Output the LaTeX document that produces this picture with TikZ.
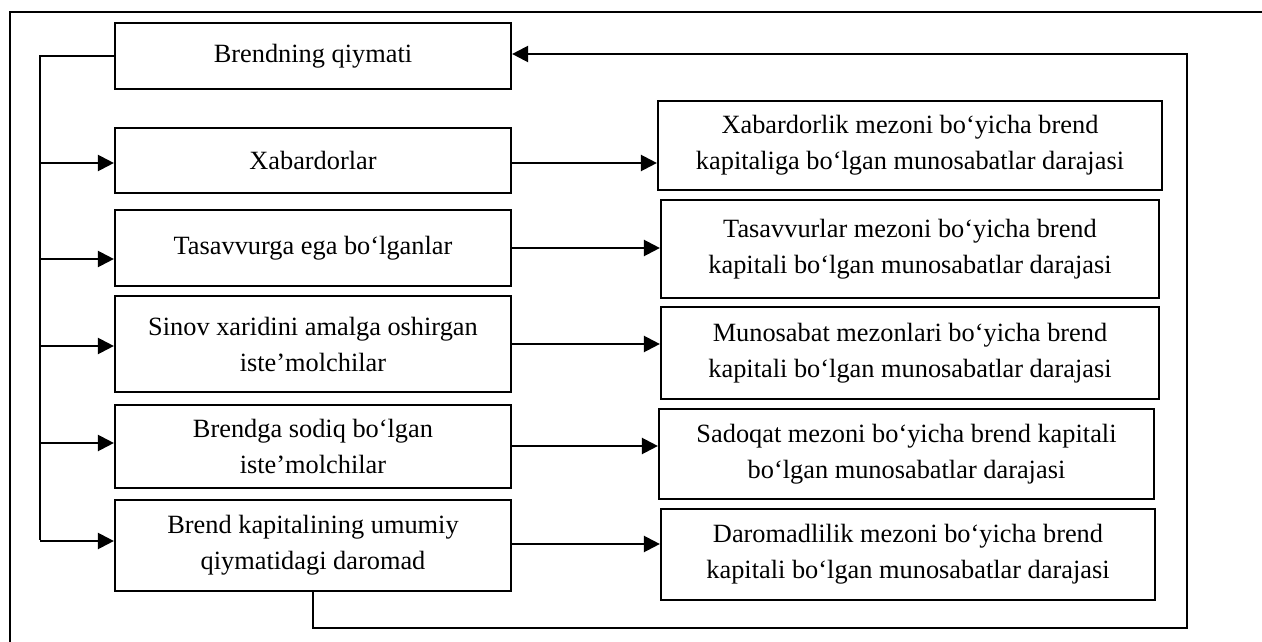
\documentclass[tikz,border=0pt]{standalone}
\usepackage{fontspec}
\setmainfont{Liberation Serif}
\usetikzlibrary{arrows.meta}
\begin{document}
\begin{tikzpicture}[x=0.02cm, y=-0.02cm,
  line width=1.3pt,
  every node/.style={font=\fontsize{15}{20.5}\selectfont},
  box/.style={draw, line width=1.3pt, align=center, inner sep=0pt},
  lbox/.style={box, minimum width=7.92cm},
  arr/.style={-{Triangle[length=0.32cm, width=0.32cm]}}]
\useasboundingbox (0,0) rectangle (1262,642);

% outer frame (runs off the page to the right and below)
\draw (10,642) -- (10,12) -- (1262,12);

% left column
\node[lbox, minimum height=1.32cm] (l1) at (313,56)    {Brendning qiymati};
\node[lbox, minimum height=1.30cm] (l2) at (313,160.5) {Xabardorlar};
\node[lbox, minimum height=1.52cm] (l3) at (313,248)   {Tasavvurga ega bo‘lganlar};
\node[lbox, minimum height=1.92cm] (l4) at (313,344)   {Sinov xaridini amalga oshirgan\\iste’molchilar};
\node[lbox, minimum height=1.66cm] (l5) at (313,446.5) {Brendga sodiq bo‘lgan\\iste’molchilar};
\node[lbox, minimum height=1.82cm] (l6) at (313,545.5) {Brend kapitalining umumiy\\qiymatidagi daromad};

% right column
\node[box, minimum width=10.08cm, minimum height=1.78cm] (r1) at (910,145.5) {Xabardorlik mezoni bo‘yicha brend\\kapitaliga bo‘lgan munosabatlar darajasi};
\node[box, minimum width=9.96cm, minimum height=1.96cm] (r2) at (910,249) {Tasavvurlar mezoni bo‘yicha brend\\kapitali bo‘lgan munosabatlar darajasi};
\node[box, minimum width=9.96cm, minimum height=1.84cm] (r3) at (910,353) {Munosabat mezonlari bo‘yicha brend\\kapitali bo‘lgan munosabatlar darajasi};
\node[box, minimum width=9.90cm, minimum height=1.80cm] (r4) at (906.5,454) {Sadoqat mezoni bo‘yicha brend kapitali\\bo‘lgan munosabatlar darajasi};
\node[box, minimum width=9.88cm, minimum height=1.82cm] (r5) at (908,554.5) {Daromadlilik mezoni bo‘yicha brend\\kapitali bo‘lgan munosabatlar darajasi};

% levels of the horizontal connectors
\coordinate (bus) at (40,0);
\coordinate (busend) at (40,540);
\coordinate (a2) at (0,163);
\coordinate (a3) at (0,259);
\coordinate (a4) at (0,346);
\coordinate (a5) at (0,443);
\coordinate (a6) at (0,541);
\coordinate (b3) at (0,248);
\coordinate (b4) at (0,344);
\coordinate (b5) at (0,446);
\coordinate (b6) at (0,544);
\coordinate (loopy) at (0,628);
\coordinate (loopx) at (1187,0);
\coordinate (topy) at (0,54);

% left bus from the top box down to the other boxes
\draw (l1.west) -- (bus |- l1.west) -- (busend);
\draw[arr] (bus |- a2) -- (l2.west |- a2);
\draw[arr] (bus |- a3) -- (l3.west |- a3);
\draw[arr] (bus |- a4) -- (l4.west |- a4);
\draw[arr] (bus |- a5) -- (l5.west |- a5);
\draw[arr] (bus |- a6) -- (l6.west |- a6);

% left boxes to right boxes
\draw[arr] (l2.east |- a2) -- (r1.west |- a2);
\draw[arr] (l3.east |- b3) -- (r2.west |- b3);
\draw[arr] (l4.east |- b4) -- (r3.west |- b4);
\draw[arr] (l5.east |- b5) -- (r4.west |- b5);
\draw[arr] (l6.east |- b6) -- (r5.west |- b6);

% feedback loop back to the top box
\draw[arr] (l6.south) -- (l6.south |- loopy) -- (loopx |- loopy) -- (loopx |- topy) -- (l1.east |- topy);
\end{tikzpicture}
\end{document}
